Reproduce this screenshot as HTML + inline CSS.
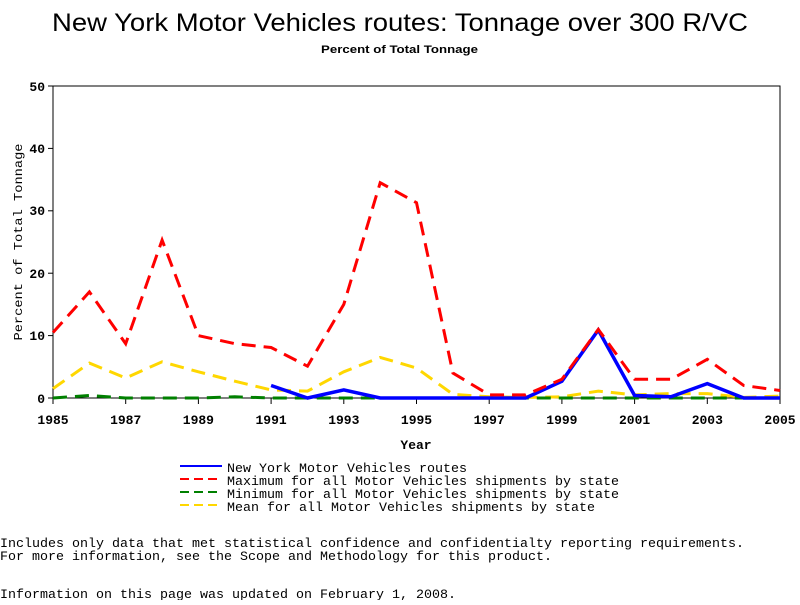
<!DOCTYPE html>
<html><head><style>body{margin:0;background:#fff}svg text{font-family:"Liberation Mono",monospace}</style></head><body>
<svg width="800" height="600" xmlns="http://www.w3.org/2000/svg">
<text x="52" y="31" textLength="696" lengthAdjust="spacingAndGlyphs" style="font-family:'Liberation Sans',sans-serif;font-size:25px">New York Motor Vehicles routes: Tonnage over 300 R/VC</text>
<text x="321" y="53" textLength="157" lengthAdjust="spacingAndGlyphs" font-size="11" font-weight="bold" style="font-family:'Liberation Sans',sans-serif">Percent of Total Tonnage</text>
<rect x="53" y="86" width="727" height="312" fill="none" stroke="#000" stroke-width="1"/>
<g stroke="#000"><line x1="48" y1="86" x2="53" y2="86"/><line x1="48" y1="148.4" x2="53" y2="148.4"/><line x1="48" y1="210.8" x2="53" y2="210.8"/><line x1="48" y1="273.2" x2="53" y2="273.2"/><line x1="48" y1="335.6" x2="53" y2="335.6"/><line x1="48" y1="398" x2="53" y2="398"/>
<line x1="53" y1="398" x2="53" y2="404"/><line x1="125.7" y1="398" x2="125.7" y2="404"/><line x1="198.4" y1="398" x2="198.4" y2="404"/><line x1="271.1" y1="398" x2="271.1" y2="404"/><line x1="343.8" y1="398" x2="343.8" y2="404"/><line x1="416.5" y1="398" x2="416.5" y2="404"/><line x1="489.2" y1="398" x2="489.2" y2="404"/><line x1="561.9" y1="398" x2="561.9" y2="404"/><line x1="634.6" y1="398" x2="634.6" y2="404"/><line x1="707.3" y1="398" x2="707.3" y2="404"/><line x1="780" y1="398" x2="780" y2="404"/></g>
<g font-size="13" font-weight="bold" text-anchor="end"><text x="45" y="91">50</text><text x="45" y="153">40</text><text x="45" y="215">30</text><text x="45" y="278">20</text><text x="45" y="340">10</text><text x="45" y="403">0</text></g>
<g font-size="13" font-weight="bold" text-anchor="middle"><text x="53" y="424">1985</text><text x="125.7" y="424">1987</text><text x="198.4" y="424">1989</text><text x="271.1" y="424">1991</text><text x="343.8" y="424">1993</text><text x="416.5" y="424">1995</text><text x="489.2" y="424">1997</text><text x="561.9" y="424">1999</text><text x="634.6" y="424">2001</text><text x="707.3" y="424">2003</text><text x="780" y="424">2005</text>
<text x="416" y="449">Year</text></g>
<text transform="translate(22,242) rotate(-90)" text-anchor="middle" font-size="12" textLength="197" lengthAdjust="spacingAndGlyphs">Percent of Total Tonnage</text>
<g fill="none" stroke-width="3">
<polyline stroke="#ffd700" stroke-dasharray="14,8" points="53,388.6 89.4,363.1 125.7,378 162.1,361.8 198.4,371.8 234.8,381.2 271.1,389.9 307.5,391.1 343.8,371.8 380.2,357.4 416.5,368 452.9,394.3 489.2,396.8 525.6,397.4 561.9,396.8 598.3,391.1 634.6,394.9 671,393.6 707.3,393.6 743.7,397.4 780,396.1"/>
<polyline stroke="#008000" stroke-dasharray="14,8" points="53,398 89.4,395.5 125.7,398 162.1,398 198.4,398 234.8,396.8 271.1,398 307.5,398 343.8,398 380.2,398 416.5,398 452.9,398 489.2,398 525.6,398 561.9,398 598.3,398 634.6,398 671,398 707.3,398 743.7,398 780,398"/>
<polyline stroke="#0000ff" stroke-width="3.5" points="271.1,385.5 307.5,398 343.8,389.9 380.2,398 416.5,398 452.9,398 489.2,398 525.6,398 561.9,381.2 598.3,330 634.6,395.5 671,396.8 707.3,383.6 743.7,398 780,398"/>
<polyline stroke="#ff0000" stroke-dasharray="14,8" points="53,332.5 89.4,291.9 125.7,343.7 162.1,240.1 198.4,335.6 234.8,343.7 271.1,347.5 307.5,366.2 343.8,304.4 380.2,182.7 416.5,202.7 452.9,373 489.2,394.9 525.6,394.9 561.9,379.3 598.3,329.4 634.6,379.3 671,379.3 707.3,359.3 743.7,385.5 780,390.5"/>
</g>
<g stroke-width="2"><line x1="180" y1="466" x2="222" y2="466" stroke="#0000ff"/><line x1="180" y1="479" x2="222" y2="479" stroke="#ff0000" stroke-dasharray="9,5"/><line x1="180" y1="492" x2="222" y2="492" stroke="#008000" stroke-dasharray="9,5"/><line x1="180" y1="505" x2="222" y2="505" stroke="#ffd700" stroke-dasharray="9,5"/></g>
<g font-size="13"><text x="227" y="472" textLength="240" lengthAdjust="spacingAndGlyphs">New York Motor Vehicles routes</text><text x="227" y="485" textLength="392" lengthAdjust="spacingAndGlyphs">Maximum for all Motor Vehicles shipments by state</text><text x="227" y="498" textLength="392" lengthAdjust="spacingAndGlyphs">Minimum for all Motor Vehicles shipments by state</text><text x="227" y="511" textLength="368" lengthAdjust="spacingAndGlyphs">Mean for all Motor Vehicles shipments by state</text>
<text x="0" y="547" textLength="744" lengthAdjust="spacingAndGlyphs">Includes only data that met statistical confidence and confidentialty reporting requirements.</text>
<text x="0" y="560" textLength="552" lengthAdjust="spacingAndGlyphs">For more information, see the Scope and Methodology for this product.</text>
<text x="0" y="598" textLength="456" lengthAdjust="spacingAndGlyphs">Information on this page was updated on February 1, 2008.</text></g>
</svg></body></html>
